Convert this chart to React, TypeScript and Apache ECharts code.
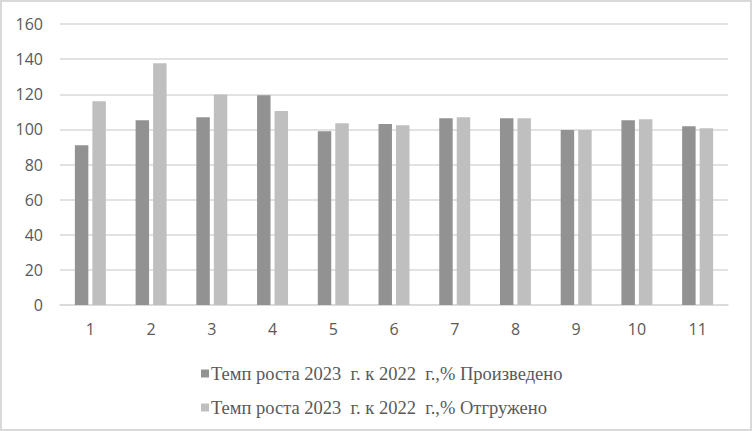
import React, { useEffect, useRef } from "react";
import * as echarts from "echarts";

const categories = ["1", "2", "3", "4", "5", "6", "7", "8", "9", "10", "11"];
const produced = [91.0, 105.2, 106.9, 119.4, 99.0, 103.0, 106.4, 106.4, 99.7, 105.2, 101.8];
const shipped = [116.0, 137.6, 119.8, 110.4, 103.5, 102.4, 106.9, 106.4, 99.7, 105.8, 100.7];
const seriesNames = [
  "Темп роста 2023  г. к 2022  г.,% Произведено",
  "Темп роста 2023  г. к 2022  г.,% Отгружено",
];
const yTicks = { min: 0, max: 160, interval: 20 };

export default function App() {
  const ref = useRef<HTMLDivElement>(null);
  useEffect(() => {
    if (!ref.current) return;
    const chart = echarts.init(ref.current, undefined, { renderer: "svg" });
    chart.setOption({
      animation: false,
      backgroundColor: "transparent",
      grid: { left: 60, right: 24, top: 24, bottom: 126 },
      legend: {
        orient: "vertical",
        left: 196,
        top: 359,
        itemWidth: 8,
        itemHeight: 8,
        itemGap: 15,
        icon: "rect",
        textStyle: { fontFamily: "Liberation Serif", fontSize: 18.5, color: "#595959", padding: [0, 0, 0, -3] },
        data: seriesNames,
      },
      xAxis: {
        type: "category",
        data: categories,
        axisLine: { lineStyle: { color: "#d9d9d9", width: 1.5 } },
        axisTick: { show: false },
        axisLabel: { color: "#595959", fontFamily: "Open Sans", fontSize: 16, margin: 16 },
      },
      yAxis: {
        type: "value",
        min: yTicks.min,
        max: yTicks.max,
        interval: yTicks.interval,
        axisLine: { show: false },
        axisTick: { show: false },
        splitLine: { lineStyle: { color: "#d9d9d9", width: 1.5 } },
        axisLabel: { color: "#595959", fontFamily: "Open Sans", fontSize: 16, margin: 17 },
      },
      series: [
        {
          name: seriesNames[0],
          type: "bar",
          data: produced,
          itemStyle: { color: "#929292" },
          barGap: "30%",
          barCategoryGap: "49%",
        },
        {
          name: seriesNames[1],
          type: "bar",
          data: shipped,
          itemStyle: { color: "#bfbfbf" },
          barGap: "30%",
          barCategoryGap: "49%",
        },
      ],
    });
    return () => chart.dispose();
  }, []);
  return (
    <div
      style={{
        position: "fixed",
        left: 0,
        top: 0,
        width: 752,
        height: 431,
        boxSizing: "border-box",
        border: "2px solid #d9d9d9",
        background: "#fff",
      }}
    >
      <div ref={ref} style={{ position: "absolute", left: -2, top: -2, width: 752, height: 431 }} />
    </div>
  );
}
